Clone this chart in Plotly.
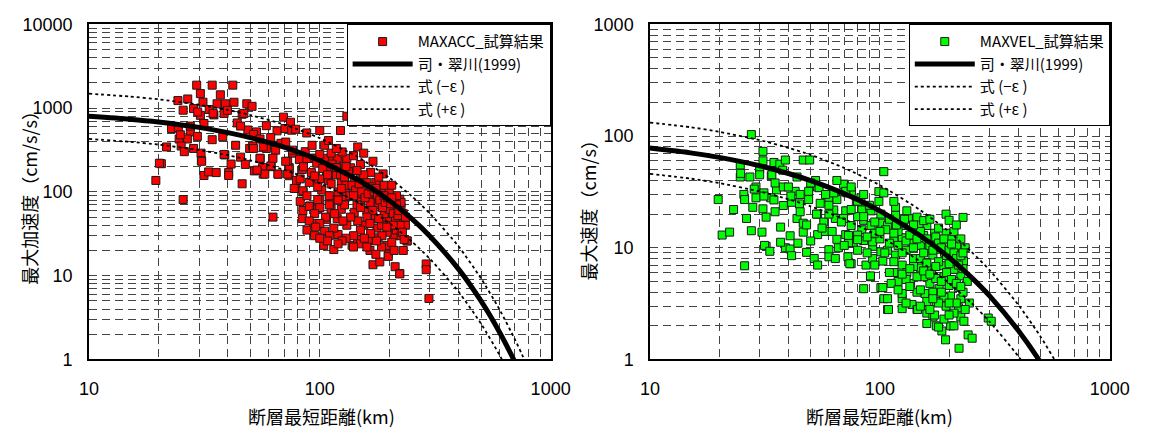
import plotly.graph_objects as go

# ---------------- data ----------------
acc_dist = [29.3, 34.2, 42, 37.1, 30.4, 24.3, 26.8, 25.6, 28.4, 31.2, 33.2, 35.9, 39, 42.5, 48.3, 50.9,
            30.4, 34.8, 38.5, 46.1, 69.6, 74.7, 31.5, 43.9, 48.8, 53.2, 58.7, 65.3, 70.7, 75.6, 22.8, 24.4,
            27.5, 24.6, 26.7, 29.5, 34.2, 38, 51.6, 55.1, 61.3, 21.7, 25.1, 25.9, 28.4, 30.6, 30.7, 38.8,
            43.2, 45.4, 47.6, 49.7, 51.2, 55.2, 62.2, 67.9, 76.2, 20.6, 19.5, 31.5, 33, 35.6, 40.3, 40.3,
            46.1, 52.1, 56.5, 61.6, 66, 73.7, 73.7, 79.3, 78.8, 25.6, 62.7, 78.6, 87.8, 100, 123, 131,
            105, 112, 95, 81.6, 72.6, 64.4, 58.7, 51.6, 45.4, 46.9, 39.8, 34.5, 29.6, 27.5, 24.9, 20.2,
            41.3, 38.5, 30.8, 56.9, 65.9, 73.7, 82.3, 84.7, 82.3, 90.6, 100, 112, 130, 100, 114, 127,
            86.5, 71.2, 109, 146, 155, 188, 222, 225, 219, 219, 239, 195, 198, 212, 222, 289, 289, 170,
            182, 104, 115, 138, 162, 179, 120, 146, 94, 107, 84, 84.5, 90, 77.5, 84.5, 72.6, 57.8, 53.5,
            61.4, 84, 94, 107, 125, 150, 166, 188, 170, 150, 131, 114, 102, 124, 141, 160, 174, 195,
            201, 177, 155, 131, 115, 105, 119, 112, 98, 98, 109, 124, 141, 155, 136, 119, 105, 92.6,
            71.2, 62.7, 55.1, 56.9, 76.2, 92.6, 112, 131, 150, 170, 297, 222, 198, 239, 219,
            210, 200, 190, 180, 170, 160, 150, 140, 130, 185, 205, 215, 225, 230, 225, 215, 200, 190,
            175, 165, 150, 140, 130, 120, 110, 100, 95, 90, 88, 160, 180, 205, 215, 235, 230, 210, 185,
            165, 150, 125, 110, 95, 128, 145, 165, 185, 200, 118, 135, 98, 88,
            85, 92, 97, 103, 108, 113, 118, 123, 128, 133, 138, 143, 148, 152, 157, 162, 168, 172,
            178, 182, 187, 192, 197, 203, 208, 213, 218, 223, 228, 232, 208, 196, 186, 176, 166, 156,
            146, 136, 126, 116, 106, 100, 96, 110, 120, 135, 150, 165, 180, 195, 112, 124, 140, 155,
            90, 95, 125, 140, 100, 88, 118, 130, 145, 175, 190, 205, 220, 235, 175, 160, 140, 120,
            108, 100]
acc_val = [1880, 1880, 1880, 1440, 1490, 1230, 1285, 945, 987, 1175, 963, 1126, 1126, 1175, 1126, 1050,
           820, 830, 865, 845, 780, 678, 655, 665, 548, 520, 617, 535, 570, 545, 570, 583,
           520, 428, 428, 460, 420, 455, 485, 428, 445, 344, 353, 302, 330, 290, 236, 276,
           360, 260, 213, 330, 353, 251, 360, 380, 290, 217, 137, 157, 173, 170, 170, 157,
           125, 178, 195, 200, 163, 195, 156, 137, 110, 81, 50, 560, 505, 540, 540, 800,
           360, 252, 252, 243, 232, 315, 330, 330, 610, 865, 940, 865, 900, 610, 480, 220,
           215, 280, 232, 163, 163, 187, 143, 100, 77, 68, 81, 78, 87, 143, 178, 232,
           302, 393, 410, 344, 290, 164, 82, 65, 48, 39, 26, 23, 18, 12.8, 10.6, 13.8, 11.8, 13.5,
           14.6, 23, 20.5, 23, 26, 28.3, 31, 27, 42, 47, 48, 60, 67, 110, 103, 163, 163, 182,
           204, 185, 137, 178, 178, 150, 171, 105, 86, 81, 101, 81, 105, 62, 57, 60, 48, 48,
           37, 37, 40, 40, 37, 34, 48, 62, 62, 81, 137, 132, 137, 115, 194, 252, 252, 252,
           232, 252, 252, 344, 315, 360, 290, 252, 212, 232, 5.35, 10.5, 17, 26, 61,
           30, 45, 55, 70, 60, 50, 35, 30, 28, 40, 25, 35, 30, 55, 75, 90, 100, 120,
           130, 100, 95, 110, 120, 100, 90, 65, 55, 45, 35, 130, 150, 120, 70, 40, 20, 20, 22,
           20, 24, 26, 30, 30, 70, 70, 75, 90, 62, 160, 165, 115, 90,
           200, 170, 220, 190, 160, 215, 195, 160, 150, 175, 120, 105, 125, 100, 85, 95, 115, 100,
           92, 80, 65, 75, 85, 72, 55, 45, 52, 40, 33, 27, 40, 33, 30, 26, 32, 28,
           45, 50, 45, 55, 50, 42, 38, 70, 80, 90, 65, 42, 48, 38, 125, 110, 90, 160,
           130, 155, 300, 270, 280, 250, 330, 200, 180, 110, 90, 85, 60, 50, 18, 22, 22, 24,
           26, 28]

vel_dist = [27.6, 31, 31, 24.7, 30, 34.6, 36.7, 38.8, 46.4, 49.5, 24.7, 27.2, 30, 33.7, 37.8, 43.6,
            52.5, 70, 28.9, 31.3, 35.5, 38, 42.8, 49, 53.5, 19.8, 25.6, 33.5, 64, 72, 75.3, 82.7,
            24.8, 33.9, 54.4, 28.4, 23.1, 25.8, 28.9, 31.3, 34.6, 38, 41.3, 44.7, 49, 53.6, 60, 65,
            71, 79, 71, 63, 83.4, 91.5, 99, 99, 104, 31, 28, 26.3, 32, 37, 27.6, 30.7,
            20.6, 22.2, 40.7, 46.4, 43.6, 46.4, 53, 57, 53.6, 58, 65, 71, 75, 85, 83.4, 91.5,
            101, 76.5, 85, 32, 38.8, 93, 31.5, 33.2, 25.8, 40.7, 41.3, 48, 51.8, 53.6, 60, 60,
            64, 73, 72.6, 75, 87, 91, 85, 101, 103, 101, 104, 69.5, 71, 63, 80, 83.5,
            69.5, 64, 73, 74, 91, 108, 108, 103, 104, 101, 117, 117, 108, 106, 127, 133,
            125, 138, 115, 108, 93, 93, 117, 125, 115, 131, 140, 136, 125, 138, 145, 160,
            170, 186, 176, 203, 225, 242, 296, 157, 176, 194, 220, 225, 203, 181, 165, 200,
            220, 225, 210, 186, 168, 150, 150, 170, 191, 220, 231, 206, 176, 160, 199, 216,
            155, 140, 173, 194, 194, 200, 230, 160, 148, 131, 145, 115, 109, 125, 146, 173,
            180, 193, 210, 232, 221, 252, 305,
            120, 130, 145, 155, 175, 190, 210, 230, 215, 190, 160, 140, 160, 180, 200, 230,
            130, 150, 180, 205, 120, 100, 88, 80, 95, 112, 235, 240, 245, 190, 160, 125,
            95, 110, 80, 90, 60, 56, 50, 44, 66, 80, 37, 45, 41, 35, 48,
            105, 110, 115, 120, 125, 130, 135, 140, 145, 150, 155, 160, 165, 170, 175, 180,
            185, 190, 195, 200, 205, 210, 215, 220, 225, 230, 115, 125, 135, 145, 155, 165,
            175, 185, 195, 205, 215, 225, 110, 120, 135, 150, 170, 180, 200, 210, 150, 165,
            130, 200, 235, 170, 185, 118, 128, 140, 155, 165, 180, 210, 215, 225, 60, 55,
            68, 75, 85, 95, 62, 70, 80, 88, 100, 45, 50, 58, 40, 35, 65, 75, 85]
vel_val = [103, 73, 60, 55, 51, 58, 56, 61, 61, 61, 43, 43, 45, 44, 49.5, 43,
           40, 37, 35, 31, 33, 35, 32, 32, 35, 27, 30, 28, 28, 31, 32, 28,
           46.3, 45, 34.5, 33.5, 22, 27, 28, 29, 26.8, 23.9, 25.5, 24.7, 27, 20, 28, 27,
           31.5, 26, 21.4, 21.8, 22.3, 21.4, 26, 31.8, 48, 22.3, 23, 18.3, 18.8, 15.3, 14.2, 13.8,
           13, 13.8, 12.8, 13.8, 18.3, 16.6, 20, 17, 13.1, 14, 11.9, 13.1, 15.8, 17.6, 14.5, 15.8,
           16.6, 11.1, 11.6, 10.3, 10, 10.3, 10.5, 9.3, 6.9, 9.75, 8.5, 9.1, 8, 7, 9.6, 8.3,
           8, 11.1, 8.3, 7.2, 7, 5.5, 4.3, 9.2, 7.6, 4.4, 3.5, 37, 32, 31, 26.1, 21.8,
           18.3, 18.3, 12.9, 7.2, 5.6, 3.5, 2.8, 4.4, 31, 20, 23, 19.5, 15.8, 14.5, 15.8, 18.3,
           12.3, 11, 11.6, 9.5, 8, 11.3, 8.6, 7, 6, 6, 8, 4.8, 3.5, 3.1, 2.8, 2.6,
           2.4, 1.8, 2, 2, 2.4, 1.66, 2.35, 3.9, 3.3, 3, 2.9, 3.5, 3.7, 4.3, 4.8, 4.6,
           4.4, 5.6, 6.4, 6.9, 6.4, 6.6, 8, 8.6, 9.1, 9.5, 7.6, 8, 11, 10, 10.3, 10.3,
           12.9, 13.5, 13.5, 13.5, 20, 17.6, 18.7, 15.8, 16.4, 21.4, 18.8, 26, 2.8, 2.85, 2.8, 2.5,
           1.95, 1.5, 2, 2.2, 1.26, 1.55, 2.2,
           5, 5.2, 4, 5.5, 5.3, 5.5, 5, 4, 3.2, 3.6, 3.3, 6.8, 7.3, 7.5, 7.2, 6.5,
           9.5, 10.5, 9.7, 12, 14, 12, 9, 9.5, 7, 4.8, 10, 5, 3.2, 2.3, 2.1, 3.9,
           13.5, 18, 19, 24, 24, 15, 11.5, 11, 10, 13, 11.2, 21, 29, 21, 16,
           9, 11, 13.5, 10.5, 9, 11.5, 13, 10, 12, 14, 9, 12, 10.5, 9.5, 12.5, 11,
           10, 12, 8.5, 9.5, 10.8, 9, 8, 7, 8.5, 9, 7.5, 5.8, 6.5, 5.5, 6.2, 5.8,
           6.8, 5, 6, 5.2, 4.8, 4.5, 6, 4.2, 4.5, 4.2, 4, 3.2, 3.2, 2.6, 3, 2.8,
           3.2, 2.5, 2.8, 3.5, 4, 16, 18, 16, 17.5, 18, 15, 14, 16, 12, 20, 25,
           17, 22, 19, 17, 14, 10.5, 11.8, 12.5, 14, 30, 38, 30, 35, 38, 40, 35, 30]

# Si & Midorikawa (1999) curves
acc_curve_dist = [10, 15, 20, 30, 40, 50, 70, 100, 150, 200, 250, 300, 400, 500, 600, 700, 750, 800]
acc_mean = [799, 738, 684, 589, 510, 444, 342, 236, 134, 78.9, 47.9, 29.6, 11.9, 4.96, 2.13, 0.935, 0.623, 0.417]
acc_minus = [429, 396, 367, 316, 274, 238, 184, 127, 72, 42.4, 25.7, 15.9, 6.39, 2.66, 1.14, 0.502, 0.335, 0.224]
acc_plus = [1488, 1374, 1274, 1097, 950, 827, 637, 439, 250, 147, 89.2, 55.1, 22.2, 9.24, 3.97, 1.74, 1.16, 0.776]

vel_curve_dist = [10, 15, 20, 30, 40, 50, 70, 100, 150, 200, 250, 300, 400, 500, 600, 700]
vel_mean = [78.0, 70.7, 64.4, 54.2, 46.2, 39.9, 30.5, 21.4, 12.8, 8.19, 5.43, 3.71, 1.82, 0.943, 0.504, 0.276]
vel_minus = [45.9, 41.6, 37.9, 31.9, 27.2, 23.5, 18.0, 12.6, 7.54, 4.82, 3.20, 2.18, 1.07, 0.555, 0.297, 0.163]
vel_plus = [132, 120, 109, 92.0, 78.4, 67.8, 51.8, 36.3, 21.7, 13.9, 9.22, 6.30, 3.09, 1.60, 0.856, 0.469]

x_ticks = [10, 100, 1000]
acc_ticks = [1, 10, 100, 1000, 10000]
vel_ticks = [1, 10, 100, 1000]

names_acc = ["MAXACC_試算結果", "司・翠川(1999)", "式 (−ε )", "式 (+ε )"]
names_vel = ["MAXVEL_試算結果", "司・翠川(1999)", "式 (−ε )", "式 (+ε )"]

# ---------------- figure ----------------
W, H = 1159, 443
CJK = "Noto Sans CJK JP"
NUM = "Liberation Sans"

fig = go.Figure()


def add_panel(dist, val, cdist, cmean, cminus, cplus, names, color, xa, ya, leg):
    fig.add_trace(go.Scatter(
        x=dist, y=val, mode="markers", name=names[0], xaxis=xa, yaxis=ya, legend=leg,
        marker=dict(symbol="square", size=8, color=color, line=dict(color="#1a1a1a", width=1)),
        cliponaxis=True))
    fig.add_trace(go.Scatter(
        x=cdist, y=cmean, mode="lines", name=names[1], xaxis=xa, yaxis=ya, legend=leg,
        line=dict(color="black", width=5, shape="spline", smoothing=0.6)))
    fig.add_trace(go.Scatter(
        x=cdist, y=cminus, mode="lines", name=names[2], xaxis=xa, yaxis=ya, legend=leg,
        line=dict(color="black", width=1.8, dash="3px,3px", shape="spline", smoothing=0.6)))
    fig.add_trace(go.Scatter(
        x=cdist, y=cplus, mode="lines", name=names[3], xaxis=xa, yaxis=ya, legend=leg,
        line=dict(color="black", width=1.8, dash="3px,3px", shape="spline", smoothing=0.6)))


add_panel(acc_dist, acc_val, acc_curve_dist, acc_mean, acc_minus, acc_plus, names_acc,
          "#ff0000", "x", "y", "legend")
add_panel(vel_dist, vel_val, vel_curve_dist, vel_mean, vel_minus, vel_plus, names_vel,
          "#00ff00", "x2", "y2", "legend2")


def minor_vals(decades):
    out = []
    for d in decades:
        for k in range(2, 10):
            out.append(k * d)
    return out


grid = dict(showgrid=True, gridcolor="#444444", gridwidth=1, griddash="8px,5px")
common = dict(type="log", showline=True, linecolor="black", linewidth=1.5, mirror=True,
              zeroline=False, ticks="", tickfont=dict(family=NUM, size=18, color="black"),
              **grid)

yb, yt = 1 - 366 / H, 1 - 15 / H
x1d = [81 / W, 555 / W]
x2d = [657 / W, 1129 / W]

leg_common = dict(xanchor="right", y=yt, yanchor="top", bgcolor="white",
                  bordercolor="black", borderwidth=1,
                  font=dict(family=CJK, size=15, color="black"),
                  itemwidth=60, tracegroupgap=0)

fig.update_layout(
    width=W, height=H, margin=dict(l=0, r=0, t=0, b=0),
    paper_bgcolor="white", plot_bgcolor="white",
    xaxis=dict(domain=x1d, anchor="y", range=[1, 3], tickvals=x_ticks,
               ticktext=[str(v) for v in x_ticks], ticklabelstandoff=12,
               minor=dict(tickvals=minor_vals([10, 100]), **grid), **common),
    yaxis=dict(domain=[yb, yt], anchor="x", range=[0, 4], tickvals=acc_ticks,
               ticktext=[str(v) for v in acc_ticks], ticklabelstandoff=11,
               minor=dict(tickvals=minor_vals([1, 10, 100, 1000]), **grid), **common),
    xaxis2=dict(domain=x2d, anchor="y2", range=[1, 3], tickvals=x_ticks,
                ticktext=[str(v) for v in x_ticks], ticklabelstandoff=12,
                minor=dict(tickvals=minor_vals([10, 100]), **grid), **common),
    yaxis2=dict(domain=[yb, yt], anchor="x2", range=[0, 3], tickvals=vel_ticks,
                ticktext=[str(v) for v in vel_ticks], ticklabelstandoff=11,
                minor=dict(tickvals=minor_vals([1, 10, 100]), **grid), **common),
    legend=dict(x=x1d[1], **leg_common),
    legend2=dict(x=x2d[1], **leg_common),
    showlegend=True,
)

ann_font = dict(family=CJK, size=18, color="black")
fig.add_annotation(text="最大加速度（cm/s/s）", x=20 / W, y=1 - 192 / H, xref="paper", yref="paper",
                   xanchor="center", yanchor="middle",
                   textangle=-90, showarrow=False, font=ann_font)
fig.add_annotation(text="最大速度（cm/s）", x=593 / W, y=1 - 205 / H, xref="paper", yref="paper",
                   xanchor="center", yanchor="middle",
                   textangle=-90, showarrow=False, font=ann_font)
fig.add_annotation(text="断層最短距離(km)", x=320 / W, y=1 - 425 / H, xref="paper", yref="paper",
                   xanchor="center", yanchor="middle", showarrow=False, font=ann_font)
fig.add_annotation(text="断層最短距離(km)", x=893 / W, y=1 - 425 / H, xref="paper", yref="paper",
                   xanchor="center", yanchor="middle", showarrow=False, font=ann_font)

fig.write_html("out.html")
